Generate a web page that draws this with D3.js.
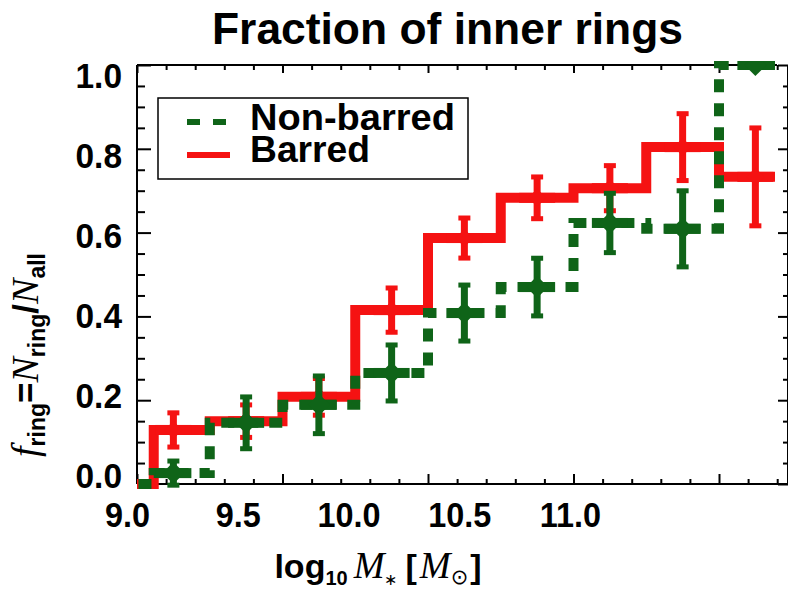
<!DOCTYPE html>
<html>
<head>
<meta charset="utf-8">
<script src="https://cdn.jsdelivr.net/npm/d3@7"></script>
<style>
  html, body { margin: 0; padding: 0; background: #fff; }
  svg { display: block; }
  text { font-family: "Liberation Sans", Arial, sans-serif; font-weight: bold; fill: #000; }
</style>
</head>
<body>
<script>
// ---------------- data ----------------
const massBins      = [8.99, 9.125, 9.375, 9.625, 9.875, 10.125, 10.375, 10.625, 10.875, 11.125];
const barredFrac    = [0, 0.129, 0.150, 0.208, 0.415, 0.587, 0.683, 0.706, 0.804, 0.733];
const barredErr     = [0, 0.042, 0.040, 0.045, 0.054, 0.049, 0.051, 0.055, 0.081, 0.118];
const nonBarredFrac = [0, 0.026, 0.146, 0.189, 0.265, 0.408, 0.470, 0.623, 0.609, 1.000];
const nonBarredErr  = [0, 0.030, 0.063, 0.070, 0.068, 0.068, 0.070, 0.072, 0.092, 0.000];
const xTickLabels   = [9.0, 9.5, 10.0, 10.5, 11.0];
const yTickLabels   = [0.0, 0.2, 0.4, 0.6, 0.8, 1.0];
const seriesNames   = ["Non-barred", "Barred"];

// ---------------- layout ----------------
const W = 788, H = 589;
const L = 137, R = 788, T = 65, B = 484;
const RED = "#f51212", GREEN = "#0f6418";

const x = d3.scaleLinear().domain([9.0, 11.25]).range([L, L + 2.25 * 291]);
const y = d3.scaleLinear().domain([0, 1]).range([B, T]);
// tick-label placement in the picture (labels are set apart from the ticks)
const xLab = d3.scaleLinear().domain([9.0, 11.0]).range([127, 570]);
const yLab = d3.scaleLinear().domain([0, 1]).range([476, 75.5]);

const svg = d3.select("body").append("svg").attr("width", W).attr("height", H);

// ---------------- title ----------------
svg.append("text").attr("x", 447.5).attr("y", 44).attr("text-anchor", "middle")
  .attr("font-size", 44).attr("textLength", 471).attr("lengthAdjust", "spacingAndGlyphs")
  .text("Fraction of inner rings");

// ---------------- frame & ticks ----------------
const frame = svg.append("g").attr("stroke", "#000").attr("stroke-width", 2).attr("fill", "none");
frame.append("line").attr("x1", L).attr("x2", L).attr("y1", T).attr("y2", B);
frame.append("line").attr("x1", L).attr("x2", R).attr("y1", B).attr("y2", B);
frame.append("line").attr("x1", L).attr("x2", 777).attr("y1", T).attr("y2", T);
frame.append("line").attr("x1", R).attr("x2", R).attr("y1", T).attr("y2", B);

const xMajor = d3.range(0, 5).map(i => 9.0 + 0.5 * i);
const xMinor = d3.range(0, 23).map(i => +(9.0 + 0.1 * i).toFixed(2)).filter(v => Math.abs(v * 2 - Math.round(v * 2)) > 1e-6);
const yMajor = yTickLabels;
const yMinor = d3.range(0, 21).map(i => +(0.05 * i).toFixed(2)).filter(v => Math.abs(v * 5 - Math.round(v * 5)) > 1e-6);

function tickAxis(axis, tr, size) {
  const g = svg.append("g").attr("transform", tr).call(axis.tickSize(size).tickFormat(""));
  g.select(".domain").remove();
  g.selectAll("line").attr("stroke", "#000").attr("stroke-width", 2);
}
tickAxis(d3.axisBottom(x).tickValues(xMajor), `translate(0,${B})`, -10);
tickAxis(d3.axisBottom(x).tickValues(xMinor), `translate(0,${B})`, -5);
tickAxis(d3.axisTop(x).tickValues(xMajor), `translate(0,${T})`, -8);
tickAxis(d3.axisTop(x).tickValues(xMinor), `translate(0,${T})`, -5);
tickAxis(d3.axisLeft(y).tickValues(yMajor), `translate(${L},0)`, -14);
tickAxis(d3.axisLeft(y).tickValues(yMinor), `translate(${L},0)`, -8);
tickAxis(d3.axisRight(y).tickValues(yMajor), `translate(${R},0)`, -10);
tickAxis(d3.axisRight(y).tickValues(yMinor), `translate(${R},0)`, -5);

// ---------------- tick labels ----------------
const gx = svg.append("g").attr("transform", "translate(0,501)")
  .call(d3.axisBottom(xLab).tickValues(xTickLabels).tickSize(0).tickPadding(0).tickFormat(d3.format(".1f")));
gx.select(".domain").remove();
gx.selectAll("text").attr("font-size", 36).attr("font-family", null).attr("transform", "scale(0.9,1)");
gx.selectAll(".tick").each(function(d) {
  // keep centre positions after the horizontal condensing
  d3.select(this).select("text").attr("x", 0);
});

const gy = svg.append("g").attr("transform", "translate(122,0)")
  .call(d3.axisLeft(yLab).tickValues(yTickLabels).tickSize(0).tickPadding(0).tickFormat(d3.format(".1f")));
gy.select(".domain").remove();
gy.selectAll("text").attr("font-size", 36).attr("font-family", null).attr("transform", "scale(0.93,1)");

// ---------------- axis titles ----------------
const serifIt = s => s.attr("font-family", "Liberation Serif").attr("font-style", "italic").attr("font-weight", "normal");
const xt = svg.append("text").attr("x", 378).attr("y", 578).attr("text-anchor", "middle").attr("font-size", 34);
xt.append("tspan").text("log");
xt.append("tspan").attr("font-size", 20).attr("dy", 7).text("10");
serifIt(xt.append("tspan").attr("dy", -7).attr("dx", 6).attr("font-size", 37)).text("M");
xt.append("tspan").attr("font-size", 16).attr("dy", 7).attr("font-weight", "normal").text("∗");
xt.append("tspan").attr("dy", -7).attr("dx", 8).text("[");
serifIt(xt.append("tspan").attr("dx", 3).attr("font-size", 37)).text("M");
xt.append("tspan").attr("font-size", 21).attr("dy", 6).attr("font-family", "DejaVu Sans").attr("font-weight", "normal").text("⊙");
xt.append("tspan").attr("dy", -6).attr("dx", 2).text("]");

const yt = svg.append("text").attr("text-anchor", "middle").attr("font-size", 35)
  .attr("transform", "translate(38,355) rotate(-90)");
serifIt(yt.append("tspan").attr("font-size", 38)).text("f");
yt.append("tspan").attr("font-size", 23).attr("dy", 7).text("ring");
yt.append("tspan").attr("dy", -7).text("=");
serifIt(yt.append("tspan").attr("font-size", 38)).text("N");
yt.append("tspan").attr("font-size", 23).attr("dy", 7).text("ring");
yt.append("tspan").attr("dy", -7).text("/");
serifIt(yt.append("tspan").attr("font-size", 38)).text("N");
yt.append("tspan").attr("font-size", 23).attr("dy", 7).text("all");

// ---------------- data marks ----------------
svg.append("defs").append("clipPath").attr("id", "plotclip")
  .append("rect").attr("x", L).attr("y", 61).attr("width", 775 - L).attr("height", 492 - 61);
const plot = svg.append("g").attr("clip-path", "url(#plotclip)");

function stepPoints(xs, ys) {
  const pts = [], n = xs.length;
  for (let i = 0; i < n; i++) {
    const left = i === 0 ? xs[0] - (xs[1] - xs[0]) / 2 : (xs[i - 1] + xs[i]) / 2;
    const right = i === n - 1 ? xs[i] + (xs[i] - xs[i - 1]) / 2 : (xs[i] + xs[i + 1]) / 2;
    pts.push([left, ys[i]], [right, ys[i]]);
  }
  return pts;
}
const line = d3.line().x(d => x(d[0])).y(d => y(d[1]));

function drawSeries(vals, errs, color, dashed, dsize) {
  const g = plot.append("g");
  g.append("path").attr("d", line(stepPoints(massBins, vals)))
    .attr("fill", "none").attr("stroke", color).attr("stroke-width", 10)
    .attr("stroke-dasharray", dashed ? "13,11" : null).attr("stroke-linejoin", "miter");
  const pts = massBins.map((m, i) => ({ m, v: vals[i], e: errs[i] })).filter(d => d.m >= 9.0);
  const sym = g.selectAll("g.sym").data(pts).join("g").attr("class", "sym");
  sym.append("rect").attr("x", d => x(d.m) - 18).attr("y", d => y(d.v) - 5).attr("width", 36).attr("height", 10).attr("fill", color);
  sym.append("rect").attr("x", d => x(d.m) - 3.5).attr("y", d => y(d.v + d.e)).attr("width", 7)
    .attr("height", d => y(d.v - d.e) - y(d.v + d.e)).attr("fill", color);
  sym.filter(d => d.e > 0).append("rect").attr("x", d => x(d.m) - 6).attr("y", d => y(d.v + d.e) - 2).attr("width", 12).attr("height", 5).attr("fill", color);
  sym.filter(d => d.e > 0).append("rect").attr("x", d => x(d.m) - 6).attr("y", d => y(d.v - d.e) - 3).attr("width", 12).attr("height", 5).attr("fill", color);
  sym.append("path").attr("d", d => {
    const cx = x(d.m), cy = y(d.v);
    return `M${cx},${cy - dsize}L${cx + dsize},${cy}L${cx},${cy + dsize}L${cx - dsize},${cy}Z`;
  }).attr("fill", color);
}
drawSeries(barredFrac, barredErr, RED, false, 9);
drawSeries(nonBarredFrac, nonBarredErr, GREEN, true, 11);

// ---------------- legend ----------------
const lg = svg.append("g");
lg.append("rect").attr("x", 158).attr("y", 98).attr("width", 310).attr("height", 81)
  .attr("fill", "#fff").attr("stroke", "#000").attr("stroke-width", 1.5);
lg.append("line").attr("x1", 187).attr("x2", 227).attr("y1", 122).attr("y2", 122)
  .attr("stroke", GREEN).attr("stroke-width", 6).attr("stroke-dasharray", "13,13");
lg.append("line").attr("x1", 187).attr("x2", 230).attr("y1", 155).attr("y2", 155)
  .attr("stroke", RED).attr("stroke-width", 6);
lg.append("text").attr("x", 250).attr("y", 130).attr("font-size", 36)
  .attr("textLength", 205).attr("lengthAdjust", "spacingAndGlyphs").text(seriesNames[0]);
lg.append("text").attr("x", 250).attr("y", 162).attr("font-size", 36)
  .attr("textLength", 120).attr("lengthAdjust", "spacingAndGlyphs").text(seriesNames[1]);
</script>
</body>
</html>
